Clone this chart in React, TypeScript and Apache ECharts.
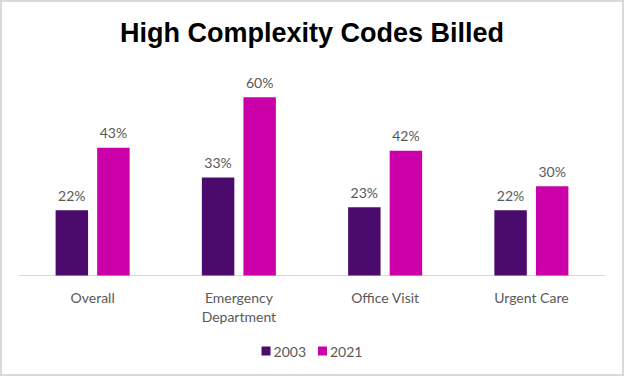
import React, { useEffect, useRef } from "react";
import * as echarts from "echarts";

const categories = ["Overall", "Emergency\nDepartment", "Office Visit", "Urgent Care"];
const seriesNames = ["2003", "2021"];
const values2003 = [22, 33, 23, 22];
const values2021 = [43, 60, 42, 30];
const colors = ["#4B0B6C", "#CC00A9"];

export default function App() {
  const ref = useRef<HTMLDivElement>(null);
  useEffect(() => {
    if (!ref.current) return;
    const chart = echarts.init(ref.current, null, { renderer: "svg" });
    const labelStyle = {
      show: true,
      position: "top" as const,
      distance: 8,
      formatter: "{c}%",
      fontFamily: "Lato",
      fontSize: 14,
      color: "#595959",
    };
    chart.setOption({
      animation: false,
      backgroundColor: "#ffffff",
      title: {
        text: "High Complexity Codes Billed",
        left: "center",
        top: 14,
        textStyle: {
          fontFamily: "Liberation Sans",
          fontWeight: "bold",
          fontSize: 27,
          color: "#000000",
        },
      },
      legend: {
        data: seriesNames,
        top: 339,
        left: "center",
        itemWidth: 9,
        itemHeight: 9,
        itemGap: 12,
        icon: "rect",
        textStyle: { fontFamily: "Lato", fontSize: 14, color: "#595959", padding: [0, 0, 0, -2] },
      },
      grid: { left: 19.5, right: 19.5, top: 67.5, bottom: 100.5 },
      xAxis: {
        type: "category",
        data: categories,
        axisLine: { lineStyle: { color: "#D9D9D9", width: 1 } },
        axisTick: { show: false },
        axisLabel: {
          fontFamily: "Lato",
          fontSize: 14,
          color: "#595959",
          margin: 12,
          lineHeight: 19,
          interval: 0,
        },
      },
      yAxis: {
        type: "value",
        min: 0,
        max: 70,
        show: false,
        splitLine: { show: false },
      },
      graphic: [
        {
          type: "rect",
          shape: { x: 1, y: 1, width: 622, height: 374 },
          style: { fill: "none", stroke: "#D9D9D9", lineWidth: 2 },
          silent: true,
        },
      ],
      series: [
        {
          name: seriesNames[0],
          type: "bar",
          data: values2003,
          barWidth: "22.2%",
          barGap: "28%",
          itemStyle: { color: colors[0] },
          label: labelStyle,
        },
        {
          name: seriesNames[1],
          type: "bar",
          data: values2021,
          barWidth: "22.2%",
          barGap: "28%",
          itemStyle: { color: colors[1] },
          label: labelStyle,
        },
      ],
    });
    return () => chart.dispose();
  }, []);
  return (
    <div
      ref={ref}
      style={{ position: "fixed", left: 0, top: 0, width: 624, height: 376 }}
    />
  );
}
